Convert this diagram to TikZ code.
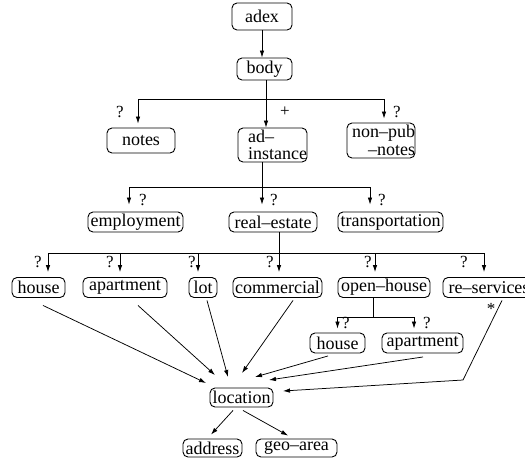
\documentclass[tikz,border=0pt]{standalone}
\usepackage{fontspec}
\setmainfont{Liberation Serif}
\usetikzlibrary{arrows.meta}
\begin{document}
\begin{tikzpicture}[x=1pt,y=-1pt,
  box/.style={draw,rounded corners=5pt,line width=0.9pt,inner xsep=1pt,inner ysep=0pt,minimum height=20pt,font=\fontsize{18}{16}\selectfont},
  two/.style={font=\fontsize{18}{17.5}\selectfont},
  lab/.style={font=\fontsize{17}{17}\selectfont,inner sep=0pt},
  arr/.style={-{Latex[length=7pt,width=4.5pt]},line width=0.75pt},
  ln/.style={line width=0.75pt}]
\useasboundingbox (0,0) rectangle (525,459);

% nodes
\node[box,minimum width=60pt,minimum height=27pt] (adex) at (262,16.5) {adex};
\node[box,minimum width=55pt,minimum height=22pt] (body) at (264.5,69) {body};
\node[box,minimum width=68pt,minimum height=25pt] (notes) at (141,140.5) {notes};
\node[box,two,minimum width=69pt,minimum height=34pt,align=left,inner xsep=0pt] (adi) at (272.5,145) {\hspace*{10pt}ad--\\\hspace*{10pt}instance};
\node[box,two,minimum width=68pt,minimum height=35pt,align=right,inner xsep=0pt] (nonpub) at (381,140.5) {\hspace*{5pt}non--pub\\\hspace*{5pt}--notes};

\node[box,minimum width=95pt] (emp) at (135.5,222) {employment};
\node[box,minimum width=88pt] (re) at (273,222) {real--estate};
\node[box,minimum width=105pt] (tr) at (390.5,222) {transportation};

\node[box,minimum width=53pt] (h1) at (38.5,287.5) {house};
\node[box,minimum width=84pt] (ap1) at (125,287.5) {apartment};
\node[box,minimum width=28pt] (lot) at (203,287.5) {lot};
\node[box,minimum width=89pt] (com) at (277.5,287.5) {commercial};
\node[box,minimum width=92pt] (oh) at (384,287.5) {open--house};
\node[box,minimum width=92pt] (rs) at (489,287.5) {re--services};

\node[box,minimum width=55pt] (h2) at (337.5,343) {house};
\node[box,minimum width=81pt] (ap2) at (422.5,343) {apartment};

\node[box,minimum width=63pt,minimum height=19pt] (loc) at (241.5,397.5) {location};
\node[box,minimum width=59pt,minimum height=18pt] (addr) at (212.5,448) {address};
\node[box,minimum width=81pt,minimum height=18pt] (geo) at (296.5,448) {geo--area};

% labels
\node[lab] (q1) at (120,112) {?};
\node[lab] (p1) at (285,112) {+};
\node[lab] (q2) at (397,112) {?};
\node[lab] (q3) at (143,200) {?};
\node[lab] (q4) at (274,200) {?};
\node[lab] (q5) at (382,200) {?};
\node[lab] (q6) at (38,262) {?};
\node[lab] (q7) at (110,262) {?};
\node[lab] (q8) at (192,262) {?};
\node[lab] (q9) at (270,262) {?};
\node[lab] (q10) at (368,262) {?};
\node[lab] (q11) at (464,262) {?};
\node[lab] (q12) at (346,323) {?};
\node[lab] (q13) at (427,323) {?};
\node[lab] (st) at (491,309) {*};

% tree connectors
\draw[arr] (adex.south) -- (adex.south |- body.north);

\coordinate (j1) at (266,99);
\draw[ln] (body.south -| j1) -- (j1);
\draw[arr,shorten >=4pt] (j1) -| ([xshift=-3pt]notes.north);
\draw[arr] (j1) -- (j1 |- adi.north);
\draw[arr,shorten >=4pt] (j1) -| ([xshift=3pt]nonpub.north);

\coordinate (j2) at (262,187);
\draw[ln] (adi.south -| j2) -- (j2);
\draw[arr,shorten >=7pt] (j2) -| ([xshift=-6.5pt]emp.north);
\draw[arr,shorten >=7pt] (j2) -- (j2 |- re.north);
\draw[arr,shorten >=7pt] (j2) -| ([xshift=-20.5pt]tr.north);

\coordinate (j3) at (279,253);
\draw[ln] (re.south -| j3) -- (j3);
\draw[arr,shorten >=5pt] (j3) -| ([xshift=9.5pt]h1.north);
\draw[arr,shorten >=5pt] (j3) -| ([xshift=-5pt]ap1.north);
\draw[arr,shorten >=5pt] (j3) -| ([xshift=-5pt]lot.north);
\draw[arr,shorten >=5pt] (j3) -| ([xshift=1.5pt]com.north);
\draw[arr,shorten >=5pt] (j3) -| ([xshift=-9pt]oh.north);
\draw[arr,shorten >=5pt] (j3) -| ([xshift=-5pt]rs.north);

\coordinate (j4) at (373,317);
\draw[ln] (oh.south -| j4) -- (j4);
\draw[arr,shorten >=4pt] (j4) -| (h2.north);
\draw[arr,shorten >=4pt] (j4) -| ([xshift=-8.5pt]ap2.north);

% into location
\coordinate (e1) at (206,383);
\coordinate (e2) at (215,375);
\coordinate (e3) at (228,377);
\coordinate (e4) at (242,373);
\coordinate (e5) at (255,377);
\coordinate (e6) at (269,380);
\coordinate (k7) at (463,380);
\coordinate (e7) at (283,391);
\draw[arr] ([shift={(4.5,7.5)}]h1.south) -- (e1);
\draw[arr] ([shift={(13,7.5)}]ap1.south) -- (e2);
\draw[arr] ([shift={(4,2.5)}]lot.south) -- (e3);
\draw[arr] ([shift={(15.5,2.5)}]com.south) -- (e4);
\draw[arr] ([shift={(-9.5,2.5)}]h2.south) -- (e5);
\draw[arr] ([shift={(0.5,3.5)}]ap2.south) -- (e6);
\draw[arr] ([shift={(13,2.5)}]rs.south) -- (k7) -- (e7);

% from location
\draw[arr] ([shift={(-8.5,3)}]loc.south) -- ([shift={(-1.5,-4)}]addr.north);
\draw[arr] ([shift={(1.5,3)}]loc.south) -- ([shift={(-8.5,-3)}]geo.north);
\end{tikzpicture}
\end{document}
